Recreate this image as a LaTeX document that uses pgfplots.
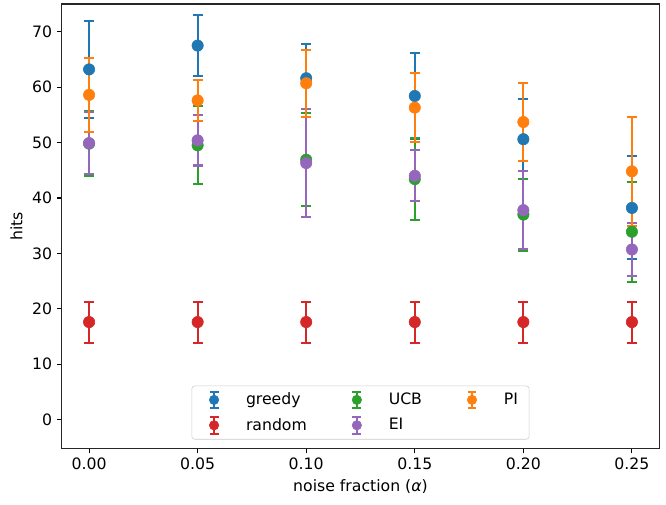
\documentclass[border=0pt]{standalone}
\usepackage{pgfplots}
\pgfplotsset{compat=1.18}
\usepackage{fontspec}
\setmainfont{DejaVu Sans}
\definecolor{tabblue}{HTML}{1F77B4}
\definecolor{taborange}{HTML}{FF7F0E}
\definecolor{tabgreen}{HTML}{2CA02C}
\definecolor{tabred}{HTML}{D62728}
\definecolor{tabpurple}{HTML}{9467BD}

\pgfplotstableread{
x y e
0.00 63.2 8.75
0.05 67.5 5.5
0.10 61.6 6.2
0.15 58.4 7.7
0.20 50.6 7.25
0.25 38.2 9.3
}\greedy
\pgfplotstableread{
x y e
0.00 17.6 3.7
0.05 17.6 3.7
0.10 17.6 3.7
0.15 17.6 3.7
0.20 17.6 3.7
0.25 17.6 3.7
}\random
\pgfplotstableread{
x y e
0.00 49.8 5.85
0.05 49.5 7.05
0.10 46.9 8.35
0.15 43.4 7.35
0.20 37.0 6.5
0.25 33.9 9.05
}\ucb
\pgfplotstableread{
x y e
0.00 49.9 5.6
0.05 50.4 4.55
0.10 46.3 9.7
0.15 44.0 4.6
0.20 37.8 7.0
0.25 30.7 4.8
}\ei
\pgfplotstableread{
x y e
0.00 58.6 6.7
0.05 57.6 3.75
0.10 60.7 6.05
0.15 56.3 6.2
0.20 53.7 7.1
0.25 44.8 9.85
}\pi

\pgfplotsset{
  ebar/.style={only marks, mark=*, color=#1, mark size=4.1pt, forget plot,
    error bars/.cd, y dir=both, y explicit, error mark=|,
    error bar style={line width=1.5pt, color=#1},
    error mark options={line width=1.5pt, mark size=3.6pt, color=#1}},
}

\begin{document}
\begin{tikzpicture}
\begin{axis}[
  scale only axis, width=430pt, height=320pt,
  xmin=-0.0125, xmax=0.2625, ymin=-5.2, ymax=75,
  xtick={0,0.05,0.1,0.15,0.2,0.25},
  ytick={0,10,20,30,40,50,60,70},
  xticklabel style={/pgf/number format/.cd, fixed, fixed zerofill, precision=2},
  /pgf/number format/assume math mode=true,
  tick align=outside, tick pos=left, major tick length=3.5pt,
  every tick/.style={line width=0.8pt, black},
  axis line style={line width=0.8pt, black!85},
  tick label style={font=\fontsize{11.3}{13.5}\selectfont},
  label style={font=\fontsize{11.3}{13.5}\selectfont},
  xlabel={noise fraction (\textit{α})}, ylabel={hits},
  legend columns=3,
  legend cell align=left,
  legend style={at={(0.5,0.02)}, anchor=south, draw=black!20, rounded corners=2pt,
    fill=white, fill opacity=0.8, text opacity=1,
    font=\fontsize{11.3}{13.5}\selectfont,
    row sep=4.2pt,
    /tikz/every even column/.append style={column sep=24pt},
    inner xsep=6pt, inner ysep=3pt},
  legend image code/.code={%
    \path[draw=none, fill=none] (0pt,0pt) -- (31pt,0pt);
    \draw[#1, line width=1.5pt, draw opacity=1] (10pt,-6pt) -- (10pt,6pt);
    \draw[#1, line width=1.5pt, draw opacity=1] (6.8pt,-6pt) -- (13.2pt,-6pt);
    \draw[#1, line width=1.5pt, draw opacity=1] (6.8pt,6pt) -- (13.2pt,6pt);
    \fill[#1, fill opacity=1] (10pt,0pt) circle (3.4pt);
  },
]
\addplot[ebar=tabblue] table[x=x, y=y, y error=e] {\greedy};
\addplot[ebar=tabred] table[x=x, y=y, y error=e] {\random};
\addplot[ebar=tabgreen] table[x=x, y=y, y error=e] {\ucb};
\addplot[ebar=tabpurple] table[x=x, y=y, y error=e] {\ei};
\addplot[ebar=taborange] table[x=x, y=y, y error=e] {\pi};
\addlegendimage{color=tabblue}
\addlegendentry{greedy}
\addlegendimage{color=tabgreen}
\addlegendentry{UCB}
\addlegendimage{color=taborange}
\addlegendentry{PI}
\addlegendimage{color=tabred}
\addlegendentry{random}
\addlegendimage{color=tabpurple}
\addlegendentry{EI}
\end{axis}
\path (current axis.south west) ++(-44.6pt,-40.3pt) (current axis.north east) ++(5pt,2.9pt);
\end{tikzpicture}
\end{document}
